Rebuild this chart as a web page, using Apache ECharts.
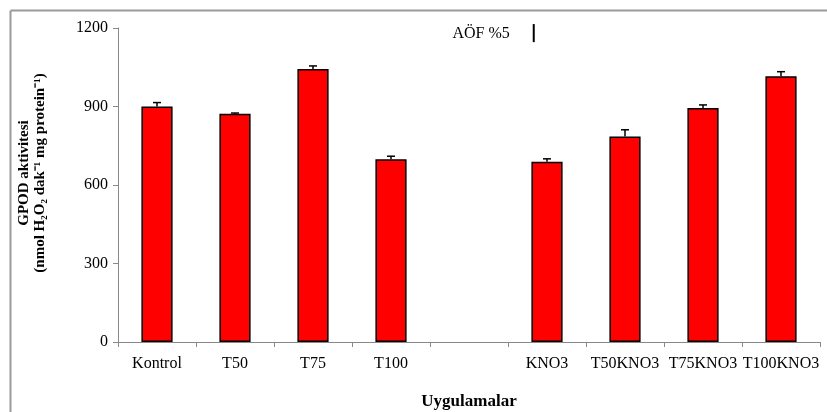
<!DOCTYPE html>
<html>
<head>
<meta charset="utf-8">
<script src="https://cdn.jsdelivr.net/npm/echarts@6/dist/echarts.min.js"></script>
<style>
html,body{margin:0;padding:0;background:#fff;}
#chart{width:827px;height:412px;}
</style>
</head>
<body>
<div id="chart"></div>
<script>
var categories = ['Kontrol', 'T50', 'T75', 'T100', '', 'KNO3', 'T50KNO3', 'T75KNO3', 'T100KNO3'];
var values = [900, 872, 1043, 698, null, 689, 785, 894, 1016];
var errors = [15, 3, 12, 12, null, 11, 26, 12, 17];
var yTicks = [0, 300, 600, 900, 1200];
var lsdLabel = 'AÖF %5';
var lsdValue = 69;
var lsdTop = 1215;

var FONT = '"Liberation Serif", "Times New Roman", serif';
var chart = echarts.init(document.getElementById('chart'), null, {renderer: 'canvas'});

var errData = [];
for (var i = 0; i < categories.length; i++) {
  if (values[i] != null) errData.push([i, values[i], errors[i]]);
}

var option = {
  animation: false,
  backgroundColor: '#fff',
  grid: {left: 118, right: 7, top: 28, bottom: 70, containLabel: false, outerBoundsMode: 'none'},
  graphic: [
    {type: 'line', shape: {x1: 10.5, y1: 10.5, x2: 827, y2: 10.5}, style: {stroke: '#9a9a9a', lineWidth: 2}},
    {type: 'line', shape: {x1: 10.5, y1: 10.5, x2: 10.5, y2: 412}, style: {stroke: '#9a9a9a', lineWidth: 2}}
  ],
  xAxis: {
    type: 'category',
    data: categories,
    name: 'Uygulamalar',
    nameLocation: 'middle',
    nameGap: 51,
    nameTextStyle: {fontFamily: FONT, fontWeight: 'bold', fontSize: 17, color: '#000'},
    axisLine: {lineStyle: {color: '#888', width: 1}},
    axisTick: {show: true, alignWithLabel: false, length: 5, lineStyle: {color: '#888'}},
    axisLabel: {fontFamily: FONT, fontSize: 16, color: '#000', margin: 14, interval: 0}
  },
  yAxis: {
    type: 'value',
    min: yTicks[0],
    max: yTicks[yTicks.length - 1],
    interval: yTicks[1] - yTicks[0],
    name: 'GPOD aktivitesi\n(nmol H₂O₂ dak⁻¹ mg protein⁻¹)',
    nameLocation: 'middle',
    nameGap: 70,
    nameRotate: 90,
    nameTextStyle: {fontFamily: FONT, fontWeight: 'bold', fontSize: 15, color: '#000', lineHeight: 16, align: 'center', padding: [0, 0, 0, 24]},
    axisLine: {show: true, lineStyle: {color: '#888', width: 1}},
    axisTick: {show: true, length: 5, lineStyle: {color: '#888'}},
    splitLine: {show: false},
    axisLabel: {fontFamily: FONT, fontSize: 16, color: '#000', margin: 10, formatter: function (v) { return String(v); }}
  },
  series: [
    {
      type: 'bar',
      data: values,
      barWidth: '40%',
      itemStyle: {color: '#ff0000', borderColor: '#000', borderWidth: 1.5}
    },
    {
      type: 'custom',
      data: errData,
      z: 10,
      renderItem: function (params, api) {
        var x = api.value(0), v = api.value(1), e = api.value(2);
        var p0 = api.coord([x, v]);
        var p1 = api.coord([x, v + e]);
        var hw = 4;
        return {
          type: 'group',
          children: [
            {type: 'line', shape: {x1: p0[0], y1: p0[1], x2: p1[0], y2: p1[1]}, style: {stroke: '#000', lineWidth: 1.5}},
            {type: 'line', shape: {x1: p1[0] - hw, y1: p1[1], x2: p1[0] + hw, y2: p1[1]}, style: {stroke: '#000', lineWidth: 1.5}}
          ]
        };
      }
    },
    {
      type: 'custom',
      data: [[4, lsdTop, lsdValue]],
      clip: false,
      z: 10,
      renderItem: function (params, api) {
        var a = api.coord([4, api.value(1)]);
        var b = api.coord([5, api.value(1)]);
        var x = a[0] + (b[0] - a[0]) * 0.83;
        var top = api.coord([4, api.value(1)])[1];
        var bot = api.coord([4, api.value(1) - api.value(2)])[1];
        return {
          type: 'group',
          children: [
            {type: 'line', shape: {x1: x, y1: top, x2: x, y2: bot}, style: {stroke: '#000', lineWidth: 2}},
            {type: 'text', x: x - 24, y: (top + bot) / 2 + 1, style: {text: lsdLabel, fontFamily: FONT, fontSize: 16, fill: '#000', align: 'right', verticalAlign: 'middle'}}
          ]
        };
      }
    }
  ]
};
chart.setOption(option);
</script>
</body>
</html>
